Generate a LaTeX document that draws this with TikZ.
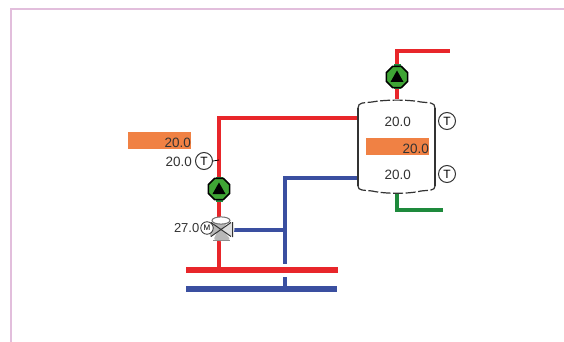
\documentclass[tikz,border=0pt]{standalone}
\usepackage{fontspec}
\setmainfont{Liberation Sans}
\usetikzlibrary{calc,shapes.geometric}
\definecolor{pipered}{HTML}{E8262A}
\definecolor{pipeblue}{HTML}{3A4FA0}
\definecolor{pipegreen}{HTML}{1E8A3C}
\definecolor{frameline}{HTML}{E2BEDC}
\definecolor{barfill}{HTML}{F08144}
\definecolor{pumpgreen}{HTML}{3FA535}
\definecolor{inkgrey}{HTML}{333333}
\tikzset{
  redpipe/.style={draw=pipered,line width=3.6pt},
  bluepipe/.style={draw=pipeblue,line width=3.6pt},
  greenpipe/.style={draw=pipegreen,line width=3.4pt},
  bus/.style={line width=6.4pt},
  val/.style={font=\fontsize{13.5}{15}\selectfont,text=inkgrey,inner sep=0pt,anchor=east},
  bar/.style={fill=barfill,draw=none,minimum width=63pt,minimum height=17pt,inner sep=0pt},
  tsens/.style={circle,draw=inkgrey,fill=white,line width=1pt,minimum size=17pt,inner sep=0pt,
    font=\fontsize{12}{13}\selectfont,text=black},
  pumpnode/.style={regular polygon,regular polygon sides=8,fill=pumpgreen,draw=black,line width=1.6pt,minimum size=23pt,inner sep=0pt,
    path picture={\fill[black] ($(path picture bounding box.center)+(0,6.5pt)$) -- ++(-6.5pt,-11.5pt) -- ++(13pt,0) -- cycle;}},
  pumpcap/.style={fill=pipegreen,draw=none},
}
\begin{document}
\begin{tikzpicture}[x=1pt,y=-1pt]
\useasboundingbox (0,0) rectangle (564,342);
\draw[frameline,line width=1.5pt] (11,342) -- (11,9) -- (564,9);
\coordinate (pipecorner) at (219,118);
\coordinate (tankredin) at (358,118);
\coordinate (tankbluein) at (358,178);
\coordinate (bluecorner) at (285,178);
\coordinate (bluejoin) at (285,230);
\coordinate (blueend) at (285,264);
\coordinate (bluestub) at (285,277);
\coordinate (bluefoot) at (285,289);
\coordinate (redfoot) at (219,270);
\coordinate (topcorner) at (397,51);
\coordinate (topend) at (450,51);
\coordinate (tanktop) at (397,99);
\coordinate (tankbottom) at (397,194);
\coordinate (greencorner) at (397,210);
\coordinate (greenend) at (443,210);
\coordinate (redbusL) at (186,270);
\coordinate (redbusR) at (338,270);
\coordinate (bluebusL) at (186,289);
\coordinate (bluebusR) at (337,289);
\coordinate (tick) at (219,160);
\coordinate (valvec) at (220,230);
\draw[redpipe] (tankredin) -- (pipecorner) -- (redfoot);
\draw[bluepipe] (tankbluein) -- (bluecorner) -- (blueend);
\draw[bluepipe] (bluestub) -- (bluefoot);
\draw[bluepipe] (valvec) -- (bluejoin);
\draw[redpipe] (tanktop) -- (topcorner) -- (topend);
\draw[greenpipe] (tankbottom) -- (greencorner) -- (greenend);
\draw[pipered,bus] (redbusL) -- (redbusR);
\draw[pipeblue,bus] (bluebusL) -- (bluebusR);
% tank
\fill[white] (358,108) .. controls (358,102) and (364,103) .. (372,102) .. controls (385,99.5) and (409,99.5) .. (421,102) .. controls (429,103) and (435,102) .. (435,108) -- (435,186) .. controls (435,191) and (429,190) .. (421,191) .. controls (409,194) and (385,194) .. (372,191) .. controls (364,190) and (358,191) .. (358,186) -- cycle;
\draw[inkgrey,line width=1.2pt] (358,108) -- (358,186);
\draw[inkgrey,line width=1.2pt] (435,108) -- (435,186);
\draw[inkgrey,line width=1.2pt,dash pattern=on 10pt off 2.5pt] (358,108) .. controls (358,102) and (364,103) .. (372,102) .. controls (385,99.5) and (409,99.5) .. (421,102) .. controls (429,103) and (435,102) .. (435,108);
\draw[inkgrey,line width=1.2pt,dash pattern=on 10pt off 2.5pt] (358,186) .. controls (358,191) and (364,190) .. (372,191) .. controls (385,194) and (409,194) .. (421,191) .. controls (429,190) and (435,191) .. (435,186);
% pumps
\fill[pumpcap] (215.5,176.5) rectangle (222.5,201.5);
\fill[pumpcap] (393.5,64.5) rectangle (400.5,89.5);
\node[pumpnode] (pumpA) at (219,189) {};
\node[pumpnode] (pumpB) at (397,77) {};
% sensors
\node[tsens] (tA) at (204,161) {T};
\node[tsens] (tB) at (447,121) {T};
\node[tsens] (tC) at (447,174) {T};
\draw[black,line width=0.8pt] (tA.east) -- (tick);
% bars
\node[bar] (barA) at (159.5,140.5) {};
\node[val] at (191,143) {20.0};
\node[bar] (barB) at (397.5,146.5) {};
\node[val] at (429,149) {20.0};
% values
\node[val] (vA) at (192,162) {20.0};
\node[val] (vB) at (411,122) {20.0};
\node[val] (vC) at (411,174.5) {20.0};
% valve
\fill[white] (222,229) circle (12.5pt);
\fill[black!28,rounded corners=3pt] (212,222) -- (228,222) -- (222,229) -- (231,240) -- (213,240) -- (219,229) -- cycle;
\fill[black!28] (210,222) -- (210,237) -- (221,229.5) -- cycle;
\fill[black!12] (233,222) -- (233,237) -- (221,229.5) -- cycle;
\draw[inkgrey!70,line width=1pt,fill=white] (221,220.5) ellipse (9pt and 3.6pt);
\draw[inkgrey,line width=1pt] (211,222.5) -- (231,236.5) (211,236.5) -- (231,222.5) (232.5,222) -- (232.5,237);
\draw[black!45,line width=0.9pt] (213,240.5) -- (230,240.5);
\node[circle,fill=white,draw=inkgrey,line width=0.8pt,minimum size=12.5pt,inner sep=0pt,font=\fontsize{8}{9}\selectfont] (motor) at (207,228) {M};
\node[val,font=\fontsize{13}{15}\selectfont] (vM) at (199.5,228) {27.0};
\end{tikzpicture}
\end{document}
